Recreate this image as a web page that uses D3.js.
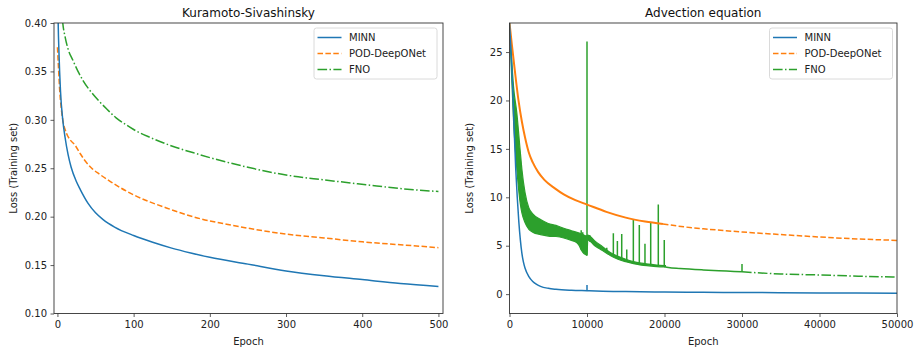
<!DOCTYPE html>
<html>
<head>
<meta charset="utf-8">
<script src="https://cdn.jsdelivr.net/npm/d3@7"></script>
<style>
  body { margin: 0; background: #fff; }
  svg { display: block; font-family: "DejaVu Sans", sans-serif; }
</style>
</head>
<body>
<div class="chart"></div>
<script>
// ---- Kuramoto-Sivashinsky (epoch, loss) ----
const ksMinn = [[0,0.47],[1,0.40],[2,0.37],[4,0.33],[7,0.30],[10,0.282],[14,0.264],[18,0.251],[25,0.236],[30,0.228],[40,0.214],[50,0.204],[60,0.197],[75,0.1893],[100,0.1805],[125,0.1735],[150,0.1675],[175,0.1625],[200,0.158],[250,0.151],[300,0.144],[350,0.139],[400,0.135],[450,0.131],[500,0.128]];
const ksPod = [[0,0.375],[1,0.36],[3,0.33],[5,0.312],[7,0.300],[12,0.286],[17,0.279],[23,0.274],[30,0.265],[36,0.258],[45,0.250],[55,0.244],[70,0.236],[100,0.2225],[143,0.209],[187,0.198],[230,0.191],[300,0.182],[350,0.178],[400,0.174],[450,0.171],[500,0.168]];
const ksFno = [[0,0.55],[5,0.42],[7,0.40],[10,0.386],[14,0.373],[20,0.362],[27,0.350],[34,0.340],[45,0.328],[55,0.319],[65,0.311],[77,0.302],[90,0.295],[100,0.290],[121,0.282],[150,0.273],[187,0.264],[200,0.261],[250,0.251],[300,0.243],[350,0.238],[405,0.233],[450,0.229],[500,0.226]];

// ---- Advection equation (epoch, loss) ----
const advMinn = [[0,28],[200,25],[400,21.5],[600,17],[800,13],[1000,10],[1200,7.5],[1400,5.6],[1600,4.2],[1800,3.3],[2000,2.7],[2500,1.8],[3000,1.3],[3500,1.0],[4000,0.8],[5000,0.6],[6000,0.5],[8000,0.4],[10000,0.35],[12000,0.3],[15000,0.27],[20000,0.22],[25000,0.19],[30000,0.17],[40000,0.13],[50000,0.1]];
const advMinnSpikes = [[10000,0.33,0.95]];
const advPodDense = [[0,28],[300,25.8],[700,23],[1160,20],[1600,17.8],[2000,16.2],[2500,14.6],[3000,13.6],[3700,12.6],[4500,11.8],[5900,10.9],[7000,10.3],[8500,9.7],[10000,9.25],[12500,8.5],[15000,7.9],[17500,7.5],[19800,7.25]];
const advPod = [[19800,7.25],[22500,6.95],[25000,6.75],[30000,6.42],[35000,6.15],[40000,5.9],[45000,5.7],[50000,5.55]];
const advFnoUpper = [[0,28],[300,24],[600,20.5],[1080,18],[1300,15.5],[1600,12.9],[2000,10.5],[2240,9.4],[2600,8.7],[3000,8.3],[4000,7.7],[5000,7.3],[6000,7.1],[7000,6.8],[8000,6.55],[9000,6.3],[9900,6.0],[10100,6.1],[11000,5.5],[12000,4.9],[13000,4.3],[14000,3.9],[15000,3.6],[16000,3.35],[17000,3.2],[18000,3.1],[19000,3.0],[20000,2.95]];
const advFnoLower = [[0,28],[200,24],[515,18],[950,12.9],[1380,9.4],[1600,8.4],[2000,7.4],[2500,6.7],[3000,6.4],[4000,6.15],[5000,6.0],[6000,5.95],[7000,5.8],[8000,5.55],[8700,5.3],[9000,5.0],[9300,4.5],[9600,4.2],[9900,4.05],[10000,4.0],[10100,5.6],[11000,5.0],[12000,4.5],[13000,4.0],[14000,3.6],[15000,3.35],[16000,3.15],[17000,3.0],[18000,2.92],[19000,2.85],[20000,2.8]];
const advFnoMid = [[20000,2.82],[20500,2.75],[22000,2.65],[25000,2.5],[28000,2.38],[30000,2.3]];
const advFno = [[30000,2.3],[32000,2.2],[35000,2.08],[40000,1.98],[45000,1.85],[50000,1.76]];
const advFnoSpikes = [[9250,4.6,6.6],[9450,4.4,6.4],[10000,4.0,26.1],[10350,5.4,6.1],[12550,4.3,4.8],[13400,3.9,6.3],[13920,3.7,5.5],[14480,3.5,6.2],[15130,3.35,4.6],[15980,3.15,7.75],[16750,3.0,7.15],[17480,2.95,5.2],[18220,2.9,7.4],[19200,2.85,9.25],[19970,2.8,5.6],[20100,2.8,3.0],[30000,2.3,3.1]];

const ksYTicks = [0.10, 0.15, 0.20, 0.25, 0.30, 0.35, 0.40];
const ksXTicks = [0, 100, 200, 300, 400, 500];
const advYTicks = [0, 5, 10, 15, 20, 25];
const advXTicks = [0, 10000, 20000, 30000, 40000, 50000];
const seriesNames = ['MINN', 'POD-DeepONet', 'FNO'];

const colors = ['#1f77b4', '#ff7f0e', '#2ca02c'];
const dashes = [null, '5.5,2.4', '9.6,2.4,1.5,2.4'];
const axisColor = '#333';

const svg = d3.select('.chart')
              .append('svg')
              .attr('width', 918)
              .attr('height', 350);

function panel(id, box, xDomain, yDomain, xTicks, yTicks, yFmt, title) {
  const x = d3.scaleLinear().domain(xDomain).range([box.left, box.right]);
  const y = d3.scaleLinear().domain(yDomain).range([box.bottom, box.top]);

  svg.append('clipPath').attr('id', id)
     .append('rect')
     .attr('x', box.left).attr('y', box.top)
     .attr('width', box.right - box.left).attr('height', box.bottom - box.top);

  const plot = svg.append('g').attr('clip-path', `url(#${id})`);

  const xAxis = svg.append('g')
    .attr('transform', `translate(0,${box.bottom})`)
    .call(d3.axisBottom(x).tickValues(xTicks).tickSize(3.5).tickPadding(3.5).tickFormat(d3.format('d')));
  const yAxis = svg.append('g')
    .attr('transform', `translate(${box.left},0)`)
    .call(d3.axisLeft(y).tickValues(yTicks).tickSize(3.5).tickPadding(3.5).tickFormat(yFmt));

  [xAxis, yAxis].forEach(g => {
    g.select('.domain').remove();
    g.selectAll('line').attr('stroke', axisColor).attr('stroke-width', 0.8);
    g.selectAll('text').attr('fill', '#222').style('font-size', '10px')
     .style('font-family', '"DejaVu Sans", sans-serif');
  });

  svg.append('rect')
     .attr('x', box.left).attr('y', box.top)
     .attr('width', box.right - box.left).attr('height', box.bottom - box.top)
     .attr('fill', 'none').attr('stroke', axisColor).attr('stroke-width', 0.9);

  svg.append('text')
     .attr('x', (box.left + box.right) / 2).attr('y', 17)
     .attr('text-anchor', 'middle').style('font-size', '12px').attr('fill', '#111')
     .text(title);
  svg.append('text')
     .attr('x', (box.left + box.right) / 2).attr('y', 345)
     .attr('text-anchor', 'middle').style('font-size', '10px').attr('fill', '#222')
     .text('Epoch');
  svg.append('text')
     .attr('transform', `translate(${box.left - 37},${(box.top + box.bottom) / 2}) rotate(-90)`)
     .attr('text-anchor', 'middle').style('font-size', '10px').attr('fill', '#222')
     .text('Loss (Training set)');

  return {x, y, plot, box};
}

function drawLine(p, data, i, width, dash) {
  const line = d3.line().x(d => p.x(d[0])).y(d => p.y(d[1])).curve(d3.curveMonotoneX);
  p.plot.append('path')
    .datum(data)
    .attr('d', line)
    .attr('fill', 'none')
    .attr('stroke', colors[i])
    .attr('stroke-width', width)
    .attr('stroke-dasharray', dash);
}

function drawSpikes(p, data, i) {
  p.plot.selectAll(null)
    .data(data)
    .enter().append('line')
    .attr('x1', d => p.x(d[0])).attr('x2', d => p.x(d[0]))
    .attr('y1', d => p.y(d[1])).attr('y2', d => p.y(d[2]))
    .attr('stroke', colors[i])
    .attr('stroke-width', 1.5);
}

function legend(left, top) {
  const g = svg.append('g').attr('transform', `translate(${left},${top})`);
  g.append('rect')
   .attr('width', 123).attr('height', 51).attr('rx', 2.5)
   .attr('fill', 'white').attr('fill-opacity', 0.8)
   .attr('stroke', '#d0d0d0').attr('stroke-width', 0.8);
  seriesNames.forEach((name, i) => {
    const cy = 9.5 + i * 16;
    g.append('line')
     .attr('x1', 3.5).attr('x2', 27.5).attr('y1', cy).attr('y2', cy)
     .attr('stroke', colors[i]).attr('stroke-width', 1.5)
     .attr('stroke-dasharray', dashes[i]);
    g.append('text')
     .attr('x', 35).attr('y', cy + 3.6)
     .style('font-size', '10px').attr('fill', '#222')
     .text(name);
  });
}

// left panel
const ks = panel('clipKs', {left: 54, right: 443, top: 23, bottom: 313.5},
                 [-4.5, 506], [0.10, 0.40], ksXTicks, ksYTicks, d3.format('.2f'),
                 'Kuramoto-Sivashinsky');
drawLine(ks, ksFno, 2, 1.5, dashes[2]);
drawLine(ks, ksPod, 1, 1.5, dashes[1]);
drawLine(ks, ksMinn, 0, 1.5, null);
legend(314, 28);

// right panel
const adv = panel('clipAdv', {left: 509.5, right: 897, top: 23, bottom: 313.5},
                  [0, 50000], [-2, 28], advXTicks, advYTicks, d3.format('d'),
                  'Advection equation');

const band = d3.area()
  .x(d => adv.x(d[0]))
  .y0((d, i) => adv.y(advFnoLower[i][1]))
  .y1(d => adv.y(d[1]))
  .curve(d3.curveMonotoneX);
// upper edge re-read on the lower series' epochs so both edges share one grid
const bandData = advFnoLower.map(d => {
  const j = d3.bisector(u => u[0]).left(advFnoUpper, d[0]);
  const a = advFnoUpper[Math.max(0, j - 1)], b = advFnoUpper[Math.min(advFnoUpper.length - 1, j)];
  const t = b[0] === a[0] ? 0 : (d[0] - a[0]) / (b[0] - a[0]);
  return [d[0], Math.max(d[1], a[1] + (b[1] - a[1]) * Math.max(0, Math.min(1, t)))];
});
adv.plot.append('path')
  .datum(bandData)
  .attr('d', band)
  .attr('fill', colors[2])
  .attr('stroke', colors[2])
  .attr('stroke-width', 1.2);
drawSpikes(adv, advFnoSpikes, 2);
drawLine(adv, advFnoMid, 2, 1.5, null);
drawLine(adv, advFno, 2, 1.5, dashes[2]);
drawLine(adv, advPodDense, 1, 2, null);
drawLine(adv, advPod, 1, 1.5, dashes[1]);
drawLine(adv, advMinn, 0, 1.5, null);
drawSpikes(adv, advMinnSpikes, 0);
legend(769.5, 28);
</script>
</body>
</html>
